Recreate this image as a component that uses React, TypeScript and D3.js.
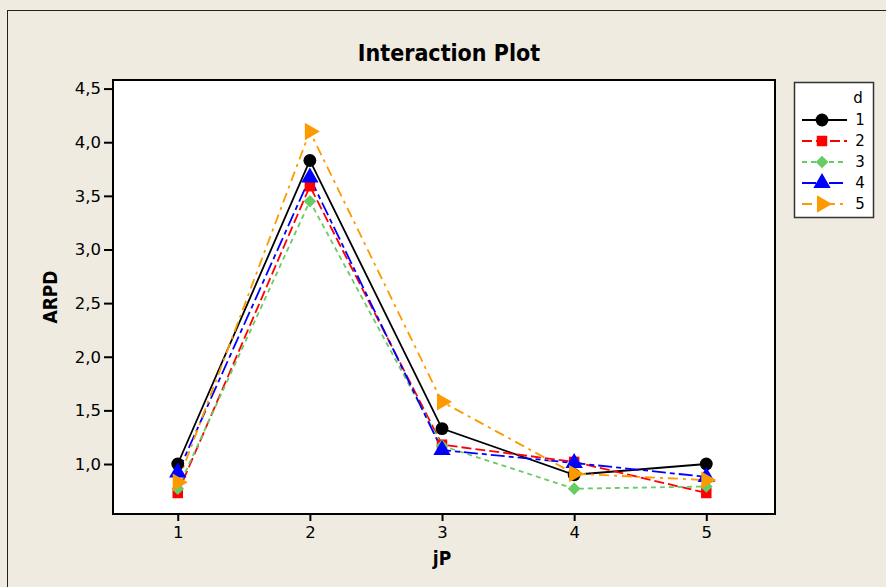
import * as d3 from "d3";
import { useEffect, useRef } from "react";

const levels = [1, 2, 3, 4, 5];
const seriesNames = ["1", "2", "3", "4", "5"];
const d1 = [1.0, 3.83, 1.33, 0.9, 1.0];
const d2 = [0.73, 3.59, 1.18, 1.02, 0.73];
const d3v = [0.77, 3.45, 1.17, 0.77, 0.79];
const d4 = [0.92, 3.67, 1.13, 1.01, 0.88];
const d5 = [0.83, 4.1, 1.58, 0.91, 0.85];
const yTicks = [1.0, 1.5, 2.0, 2.5, 3.0, 3.5, 4.0, 4.5];

const colors = ["#000000", "#ff0000", "#66cc66", "#0000ff", "#ff9900"];
const dashes = ["", "10,4", "5,4", "14,4,5,4", "10,5,3,5"];
const symbols = [d3.symbolCircle, d3.symbolSquare, d3.symbolSquare, d3.symbolTriangle, d3.symbolTriangle];

export default function App() {
  const ref = useRef<SVGSVGElement>(null);

  useEffect(() => {
    document.body.style.margin = "0";
    const width = 886;
    const height = 587;
    const margin = { top: 80, right: 111, bottom: 73, left: 113 };
    const svg = d3.select(ref.current).attr("width", width).attr("height", height);
    svg.selectAll("*").remove();

    const font = "'DejaVu Sans Condensed', 'DejaVu Sans', sans-serif";
    const tickFont = "'DejaVu Sans', sans-serif";

    // background & frame
    svg.append("rect").attr("width", width).attr("height", height).attr("fill", "#efebe1");
    svg.append("rect").attr("x", 7.5).attr("y", 10.5).attr("width", width).attr("height", height)
      .attr("fill", "none").attr("stroke", "#222").attr("stroke-width", 1);

    const x = d3.scaleLinear().domain([0.51, 5.52]).range([margin.left, width - margin.right]);
    const y = d3.scaleLinear().domain([0.534, 4.58]).range([height - margin.bottom, margin.top]);

    svg.append("rect")
      .attr("x", margin.left).attr("y", margin.top)
      .attr("width", width - margin.right - margin.left)
      .attr("height", height - margin.bottom - margin.top)
      .attr("fill", "#fff").attr("stroke", "#000").attr("stroke-width", 2);

    // Axes
    const xAxis = svg.append("g")
      .attr("transform", `translate(0,${height - margin.bottom})`)
      .call(d3.axisBottom(x).tickValues(levels).tickFormat(d3.format("d")).tickSize(7).tickPadding(5));
    xAxis.select(".domain").remove();
    xAxis.selectAll("line").attr("stroke-width", 2);
    xAxis.selectAll("text").attr("font-size", 16.5).attr("font-family", tickFont).attr("fill", "#000");

    const yAxis = svg.append("g")
      .attr("transform", `translate(${margin.left},0)`)
      .call(d3.axisLeft(y).tickValues(yTicks).tickFormat(d => d3.format(".1f")(d as number).replace(".", ",")).tickSize(9).tickPadding(3));
    yAxis.select(".domain").remove();
    yAxis.selectAll("line").attr("stroke-width", 2);
    yAxis.selectAll("text").attr("font-size", 16.5).attr("font-family", tickFont).attr("fill", "#000");

    // Title and labels
    svg.append("text").attr("x", 449).attr("y", 61).attr("text-anchor", "middle")
      .attr("font-family", font).attr("font-weight", "bold").attr("font-size", 23)
      .text("Interaction Plot");
    svg.append("text").attr("x", 442).attr("y", 565).attr("text-anchor", "middle")
      .attr("font-family", font).attr("font-weight", "bold").attr("font-size", 19)
      .text("jP");
    svg.append("text").attr("transform", "translate(57,297) rotate(-90)").attr("text-anchor", "middle")
      .attr("font-family", font).attr("font-weight", "bold").attr("font-size", 19)
      .text("ARPD");

    const allSeries = [d1, d2, d3v, d4, d5];
    const line = d3.line<number>().x((_, i) => x(levels[i])).y(d => y(d));

    const drawSymbol = (g: d3.Selection<any, any, any, any>, k: number, cx: number, cy: number) => {
      const size = k === 0 ? 130 : k === 1 ? 110 : k === 2 ? 80 : 130;
      const rot = k === 4 ? 90 : k === 2 ? 45 : 0;
      g.append("path")
        .attr("d", d3.symbol().type(symbols[k]).size(size)())
        .attr("transform", `translate(${cx},${cy}) rotate(${rot})`)
        .attr("fill", colors[k]);
    };

    allSeries.forEach((vals, k) => {
      svg.append("path").datum(vals).attr("d", line)
        .attr("fill", "none").attr("stroke", colors[k]).attr("stroke-width", 1.8)
        .attr("stroke-dasharray", dashes[k]);
    });
    allSeries.forEach((vals, k) => {
      const g = svg.append("g");
      vals.forEach((v, i) => drawSymbol(g, k, x(levels[i]), y(v)));
    });

    // Legend
    const lg = svg.append("g");
    lg.append("rect").attr("x", 794.5).attr("y", 82.5).attr("width", 79).attr("height", 135)
      .attr("fill", "#fff").attr("stroke", "#333").attr("stroke-width", 1.5);
    lg.append("text").attr("x", 858).attr("y", 103).attr("text-anchor", "middle")
      .attr("font-family", tickFont).attr("font-size", 15).text("d");
    seriesNames.forEach((name, k) => {
      const ly = 120 + k * 21;
      lg.append("line").attr("x1", 802).attr("x2", 847).attr("y1", ly).attr("y2", ly)
        .attr("stroke", colors[k]).attr("stroke-width", 1.8).attr("stroke-dasharray", dashes[k]);
      drawSymbol(lg, k, 822, ly);
      lg.append("text").attr("x", 860).attr("y", ly + 5).attr("text-anchor", "middle")
        .attr("font-family", tickFont).attr("font-size", 15).text(name);
    });
  }, []);

  return <svg ref={ref} style={{ display: "block" }}></svg>;
}
